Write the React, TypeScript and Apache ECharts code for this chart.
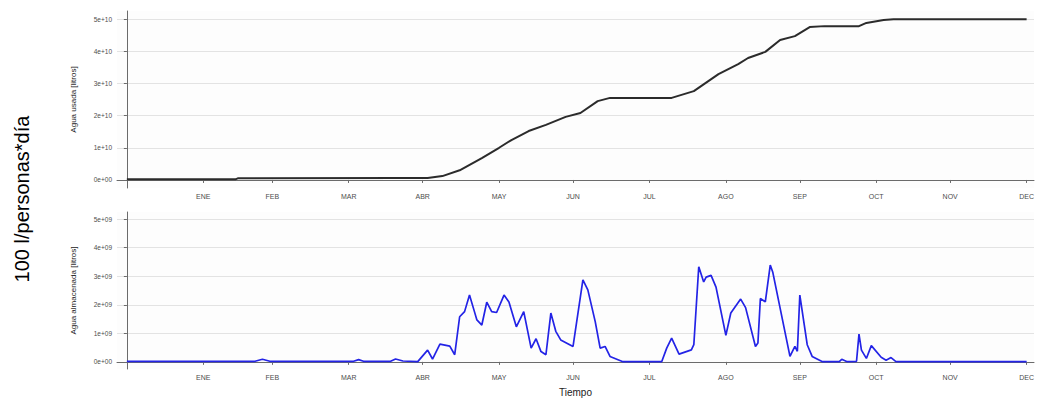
import React, { useEffect, useRef } from "react";
import * as echarts from "echarts";

// Month labels and the day-of-year where each tick sits (end of month)
const monthLabels = ["ENE", "FEB", "MAR", "ABR", "MAY", "JUN", "JUL", "AGO", "SEP", "OCT", "NOV", "DEC"];
const monthTickDays = [31, 59, 90, 120, 151, 181, 212, 243, 273, 304, 334, 365];

// Top panel: cumulative water used (litros)
const usedDays = [0, 44, 45, 110, 122, 128, 135, 144, 151, 156, 163, 170, 178, 184, 191, 196, 221, 230, 240, 248, 252, 259, 265, 271, 277, 283, 297, 300, 307, 311, 365];
const usedValues = [0.02e10, 0.02e10, 0.05e10, 0.06e10, 0.06e10, 0.12e10, 0.3e10, 0.68e10, 1.0e10, 1.24e10, 1.52e10, 1.71e10, 1.96e10, 2.08e10, 2.45e10, 2.55e10, 2.55e10, 2.76e10, 3.29e10, 3.6e10, 3.79e10, 3.98e10, 4.35e10, 4.47e10, 4.75e10, 4.78e10, 4.78e10, 4.88e10, 4.97e10, 4.99e10, 4.99e10];

// Bottom panel: stored water (litros)
const storedDays = [0, 52, 55, 58, 92, 94, 96, 107, 109, 112, 118, 122, 124, 127, 131, 133, 135, 137, 139, 141, 142, 144, 146, 148, 150, 153, 155, 158, 161, 164, 166, 168, 170, 172, 174, 176, 181, 185, 187, 190, 192, 194, 196, 201, 217, 219, 221, 224, 229, 230, 232, 234, 235, 237, 239, 243, 245, 249, 251, 255, 256, 257, 259, 261, 262, 269, 271, 272, 273, 276, 278, 282, 289, 290, 292, 296, 297, 298, 300, 302, 306, 308, 310, 312, 365];
const storedValues = [0.02e9, 0.02e9, 0.09e9, 0.02e9, 0.02e9, 0.08e9, 0.02e9, 0.02e9, 0.1e9, 0.03e9, 0.01e9, 0.41e9, 0.1e9, 0.62e9, 0.55e9, 0.25e9, 1.58e9, 1.76e9, 2.34e9, 1.76e9, 1.47e9, 1.29e9, 2.09e9, 1.76e9, 1.73e9, 2.34e9, 2.1e9, 1.23e9, 1.76e9, 0.48e9, 0.81e9, 0.36e9, 0.25e9, 1.71e9, 1.07e9, 0.77e9, 0.54e9, 2.87e9, 2.52e9, 1.41e9, 0.48e9, 0.54e9, 0.19e9, 0.01e9, 0.01e9, 0.48e9, 0.83e9, 0.27e9, 0.42e9, 0.6e9, 3.33e9, 2.8e9, 2.97e9, 3.03e9, 2.62e9, 0.93e9, 1.71e9, 2.2e9, 1.9e9, 0.54e9, 0.66e9, 2.22e9, 2.1e9, 3.39e9, 3.15e9, 0.19e9, 0.54e9, 0.37e9, 2.34e9, 0.6e9, 0.19e9, 0.01e9, 0.01e9, 0.09e9, 0.01e9, 0.02e9, 0.97e9, 0.41e9, 0.12e9, 0.57e9, 0.16e9, 0.06e9, 0.15e9, 0.01e9, 0.01e9];

const usedTicks = [0, 1e10, 2e10, 3e10, 4e10, 5e10];
const storedTicks = [0, 1e9, 2e9, 3e9, 4e9, 5e9];

function sci(v: number): string {
  if (v === 0) return "0e+00";
  const e = Math.floor(Math.log10(Math.abs(v)) + 1e-9);
  const m = Math.round(v / Math.pow(10, e));
  return `${m}e+${e < 10 ? "0" + e : e}`;
}

const labelColor = "#4d4d4d";
const gridColor = "#e3e3e3";
const axisColor = "#6b6b6b";

export default function App() {
  const ref = useRef<HTMLDivElement>(null);
  useEffect(() => {
    if (!ref.current) return;
    const chart = echarts.init(ref.current, undefined, { renderer: "svg" });
    const xAxisBase = (gridIndex: number, name: string) => ({
      type: "value" as const,
      gridIndex,
      min: -4,
      max: 368,
      name,
      nameLocation: "middle" as const,
      nameGap: 18,
      nameTextStyle: { fontSize: 10, color: "#222", fontFamily: "Liberation Sans" },
      axisLine: { show: true, lineStyle: { color: axisColor, width: 1 } },
      axisTick: { show: true, customValues: monthTickDays, length: 3, lineStyle: { color: axisColor } },
      axisLabel: {
        customValues: monthTickDays,
        fontSize: 7,
        color: labelColor,
        margin: 5,
        fontFamily: "Liberation Sans",
        formatter: (v: number) => monthLabels[monthTickDays.indexOf(Math.round(v))] ?? "",
      },
      splitLine: { show: false },
    });
    const yAxisBase = (gridIndex: number, ticks: number[], min: number, max: number, name: string) => ({
      type: "value" as const,
      gridIndex,
      min,
      max,
      name,
      nameLocation: "middle" as const,
      nameGap: 40,
      nameTextStyle: { fontSize: 8, color: "#222", fontFamily: "Liberation Sans" },
      axisLine: { show: true, lineStyle: { color: axisColor, width: 1 } },
      axisTick: { show: true, customValues: ticks, length: 3, lineStyle: { color: axisColor } },
      axisLabel: {
        customValues: ticks,
        fontSize: 6.5,
        color: labelColor,
        margin: 5,
        fontFamily: "Liberation Sans",
        formatter: (v: number) => sci(v),
      },
      splitLine: { show: true, lineStyle: { color: gridColor, width: 1 } },
    });
    chart.setOption({
      animation: false,
      backgroundColor: "#ffffff",
      graphic: [
        {
          type: "text",
          x: 22,
          y: 199,
          rotation: Math.PI / 2,
          style: {
            text: "100 l/personas*día",
            fontSize: 20,
            fontFamily: "Liberation Sans",
            fill: "#000",
            textAlign: "center",
            textVerticalAlign: "middle",
          },
        },
      ],
      grid: [
        { left: 117, top: 11, width: 920, height: 177, backgroundColor: "#fdfdfd", show: true, borderWidth: 0 },
        { left: 117, top: 212, width: 920, height: 157, backgroundColor: "#fdfdfd", show: true, borderWidth: 0 },
      ],
      xAxis: [xAxisBase(0, ""), xAxisBase(1, "Tiempo")],
      yAxis: [
        yAxisBase(0, usedTicks, -0.25e10, 5.25e10, "Agua usada [litros]"),
        yAxisBase(1, storedTicks, -0.25e9, 5.25e9, "Agua almacenada [litros]"),
      ],
      series: [
        {
          type: "line",
          xAxisIndex: 0,
          yAxisIndex: 0,
          data: usedDays.map((d, i) => [d, usedValues[i]]),
          showSymbol: false,
          lineStyle: { color: "#2b2b2b", width: 2 },
        },
        {
          type: "line",
          xAxisIndex: 1,
          yAxisIndex: 1,
          data: storedDays.map((d, i) => [d, storedValues[i]]),
          showSymbol: false,
          lineStyle: { color: "#2323e6", width: 1.7 },
        },
      ],
    });
    return () => chart.dispose();
  }, []);
  return <div ref={ref} style={{ position: "absolute", left: 0, top: 0, width: 1037, height: 400 }} />;
}
